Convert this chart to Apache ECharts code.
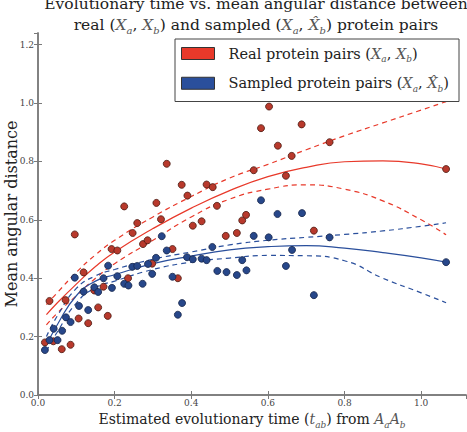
<!DOCTYPE html>
<html>
<head>
<meta charset="utf-8">
<script src="https://cdn.jsdelivr.net/npm/echarts@6/dist/echarts.min.js"></script>
<style>
  html, body { margin: 0; padding: 0; background: #fff; }
  #chart { width: 467px; height: 432px; }
</style>
</head>
<body>
<div id="chart"></div>
<script>
// scatter points
const realX = [0.018, 0.030, 0.040, 0.062, 0.072, 0.085, 0.096, 0.106, 0.119, 0.131, 0.147, 0.157, 0.171, 0.182, 0.192, 0.207, 0.225, 0.235, 0.247, 0.259, 0.274, 0.286, 0.298, 0.309, 0.321, 0.336, 0.351, 0.365, 0.375, 0.390, 0.404, 0.427, 0.440, 0.456, 0.467, 0.490, 0.519, 0.533, 0.543, 0.563, 0.582, 0.603, 0.626, 0.647, 0.662, 0.688, 0.720, 0.761, 1.065];
const realY = [0.180, 0.322, 0.184, 0.157, 0.325, 0.172, 0.550, 0.262, 0.420, 0.246, 0.358, 0.300, 0.371, 0.271, 0.500, 0.495, 0.646, 0.400, 0.555, 0.589, 0.517, 0.530, 0.450, 0.658, 0.602, 0.792, 0.500, 0.400, 0.720, 0.683, 0.580, 0.595, 0.721, 0.712, 0.648, 0.545, 0.555, 0.598, 0.617, 0.770, 0.914, 0.988, 0.854, 0.751, 0.819, 0.927, 0.563, 0.866, 0.774];

const sampledX = [0.018, 0.030, 0.041, 0.051, 0.063, 0.073, 0.085, 0.096, 0.107, 0.119, 0.131, 0.147, 0.157, 0.171, 0.183, 0.193, 0.207, 0.225, 0.236, 0.246, 0.259, 0.273, 0.287, 0.298, 0.308, 0.323, 0.336, 0.351, 0.365, 0.376, 0.389, 0.404, 0.427, 0.440, 0.455, 0.468, 0.492, 0.519, 0.533, 0.544, 0.563, 0.582, 0.602, 0.625, 0.647, 0.663, 0.689, 0.720, 0.761, 1.065];
const sampledY = [0.154, 0.188, 0.227, 0.188, 0.220, 0.266, 0.250, 0.402, 0.305, 0.354, 0.291, 0.369, 0.353, 0.400, 0.443, 0.367, 0.407, 0.381, 0.375, 0.439, 0.442, 0.381, 0.449, 0.415, 0.470, 0.544, 0.495, 0.405, 0.275, 0.315, 0.472, 0.465, 0.467, 0.462, 0.507, 0.425, 0.421, 0.411, 0.462, 0.427, 0.545, 0.667, 0.540, 0.620, 0.442, 0.497, 0.623, 0.342, 0.540, 0.455];

// fitted curves and bands, read at these x positions
const fitX = [0.022, 0.05, 0.1, 0.15, 0.2, 0.3, 0.4, 0.5, 0.6, 0.7, 0.8, 0.9, 1.0, 1.065];
const realFit   = [0.275, 0.315, 0.380, 0.440, 0.490, 0.570, 0.640, 0.700, 0.748, 0.780, 0.799, 0.802, 0.792, 0.774];
const realUpper = [0.310, 0.350, 0.420, 0.480, 0.530, 0.610, 0.680, 0.743, 0.790, 0.840, 0.888, 0.932, 0.976, 1.005];
const realLower = [0.240, 0.280, 0.340, 0.400, 0.450, 0.530, 0.610, 0.671, 0.705, 0.720, 0.705, 0.665, 0.600, 0.549];
const sampFit   = [0.170, 0.240, 0.340, 0.390, 0.412, 0.450, 0.476, 0.497, 0.508, 0.512, 0.503, 0.488, 0.470, 0.455];
const sampUpper = [0.200, 0.270, 0.365, 0.408, 0.430, 0.465, 0.490, 0.514, 0.530, 0.540, 0.550, 0.562, 0.578, 0.590];
const sampLower = [0.150, 0.215, 0.315, 0.368, 0.390, 0.430, 0.455, 0.469, 0.478, 0.477, 0.460, 0.400, 0.350, 0.316];

const xTicks = ['0.0', '0.2', '0.4', '0.6', '0.8', '1.0'];
const yTicks = ['0.0', '0.2', '0.4', '0.6', '0.8', '1.0', '1.2'];

const RED = '#e8392a', RED_PT = '#b8392c';
const BLUE = '#2a4f9c', BLUE_PT = '#27478a';
const SERIF = '"DejaVu Serif", "Liberation Serif", serif';

const zip = (xs, ys) => xs.map((x, i) => [x, ys[i]]);

const mathRich = (size, lh) => {
  lh = lh || size + 6;
  return {
    n: { fontFamily: SERIF, fontSize: size, fontWeight: 'normal', color: '#222', lineHeight: lh },
    i: { fontFamily: SERIF, fontSize: size, fontWeight: 'normal', fontStyle: 'italic', color: '#555', lineHeight: lh },
    s: { fontFamily: SERIF, fontSize: Math.round(size * 0.65), fontWeight: 'normal', fontStyle: 'italic', color: '#555',
         verticalAlign: 'bottom', lineHeight: lh }
  };
};

const chart = echarts.init(document.getElementById('chart'), null, {renderer: 'svg'});

function fitLine(name, data, color, dashed) {
  return {
    name: name, type: 'line', data: data, smooth: true, symbol: 'none',
    lineStyle: {color: color, width: 1.2, type: dashed ? [5, 4] : 'solid'},
    silent: true, z: 2
  };
}

function scatter(name, data, fill, edge) {
  return {
    name: name, type: 'scatter', data: data, symbolSize: 7,
    itemStyle: {color: fill, borderColor: edge, borderWidth: 0.8, opacity: 1}, z: 3
  };
}

const axisLine = {show: true, lineStyle: {color: '#7a7a7a', width: 1.5}};
const axisTick = {show: true, inside: true, length: 4, lineStyle: {color: '#7a7a7a'}};

chart.setOption({
  animation: false,
  backgroundColor: '#fff',
  title: {
    text: '{n|Evolutionary time vs. mean angular distance between}\n' +
          '{n|real (}{i|X}{s|a}{n|, }{i|X}{s|b}{n|) and sampled (}{i|X}{s|a}{n|, }{i|X̂}{s|b}{n|) protein pairs}',
    left: 251, top: -12, textAlign: 'center',
    textStyle: {fontWeight: 'normal', rich: mathRich(15.5, 21)}
  },
  legend: {
    orient: 'vertical', left: 175, top: 39,
    padding: [7, 10, 8, 6], itemGap: 12,
    itemWidth: 33, itemHeight: 12,
    borderColor: '#444', borderWidth: 1, backgroundColor: '#fff',
    selectedMode: false,
    data: [
      {name: 'real', icon: 'rect', itemStyle: {color: RED, borderColor: '#333', borderWidth: 1}},
      {name: 'sampled', icon: 'rect', itemStyle: {color: BLUE, borderColor: '#333', borderWidth: 1}}
    ],
    formatter: function (name) {
      return name === 'real'
        ? '{n|Real protein pairs (}{i|X}{s|a}{n|, }{i|X}{s|b}{n|)}'
        : '{n|Sampled protein pairs (}{i|X}{s|a}{n|, }{i|X̂}{s|b}{n|)}';
    },
    textStyle: {padding: [0, 0, 0, 9], rich: mathRich(14.5)}
  },
  grid: {left: 38, right: 1, top: 33, bottom: 37, outerBoundsMode: 'none', containLabel: false},
  xAxis: [{
    type: 'value', min: 0, max: 1.117, interval: 0.2,
    axisLine: axisLine, axisTick: axisTick, splitLine: {show: false},
    axisLabel: {
      showMaxLabel: false, fontFamily: SERIF, fontSize: 9, color: '#444', margin: 3,
      formatter: (v) => xTicks[Math.round(v / 0.2)] || ''
    },
    name: '{n|Estimated evolutionary time (}{i|t}{s|ab}{n|) from }{i|A}{s|a}{i|A}{s|b}',
    nameLocation: 'middle', nameGap: 14, nameMoveOverlap: false,
    nameTextStyle: {rich: mathRich(14)}
  }, {
    type: 'value', position: 'top', min: 0, max: 1.117, interval: 0.2,
    axisLine: axisLine, axisTick: axisTick, axisLabel: {show: false}, splitLine: {show: false}
  }],
  yAxis: [{
    type: 'value', min: 0, max: 1.24, interval: 0.2,
    axisLine: axisLine, axisTick: axisTick, splitLine: {show: false},
    axisLabel: {
      showMaxLabel: false, fontFamily: SERIF, fontSize: 9, color: '#444', margin: 4,
      formatter: (v) => yTicks[Math.round(v / 0.2)] || ''
    },
    name: 'Mean angular distance',
    nameLocation: 'middle', nameGap: 19, nameRotate: 90, nameMoveOverlap: false,
    nameTextStyle: {fontFamily: SERIF, fontSize: 16, color: '#222'}
  }, {
    type: 'value', position: 'right', min: 0, max: 1.24, interval: 0.2,
    axisLine: axisLine, axisTick: axisTick, axisLabel: {show: false}, splitLine: {show: false}
  }],
  series: [
    fitLine('realFit', zip(fitX, realFit), RED, false),
    fitLine('realUpper', zip(fitX, realUpper), RED, true),
    fitLine('realLower', zip(fitX, realLower), RED, true),
    fitLine('sampFit', zip(fitX, sampFit), BLUE, false),
    fitLine('sampUpper', zip(fitX, sampUpper), BLUE, true),
    fitLine('sampLower', zip(fitX, sampLower), BLUE, true),
    scatter('real', zip(realX, realY), RED_PT, '#4a1a12'),
    scatter('sampled', zip(sampledX, sampledY), BLUE_PT, '#16264a')
  ]
});
</script>
</body>
</html>
